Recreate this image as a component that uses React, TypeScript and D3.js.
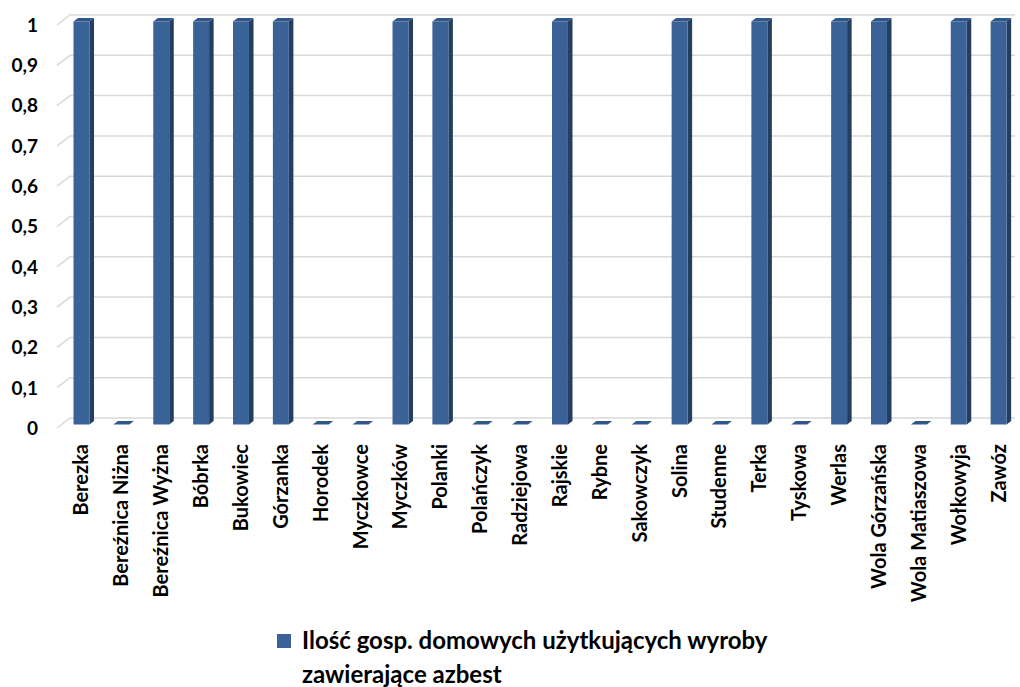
import React from 'react';
import * as d3 from 'd3';

// village names along the x axis
const categories = [
  'Berezka', 'Bereźnica Niżna', 'Bereźnica Wyżna', 'Bóbrka', 'Bukowiec', 'Górzanka',
  'Horodek', 'Myczkowce', 'Myczków', 'Polanki', 'Polańczyk', 'Radziejowa', 'Rajskie',
  'Rybne', 'Sakowczyk', 'Solina', 'Studenne', 'Terka', 'Tyskowa', 'Werlas',
  'Wola Górzańska', 'Wola Matiaszowa', 'Wołkowyja', 'Zawóz',
];
const values = [1, 0, 1, 1, 1, 1, 0, 0, 1, 1, 0, 0, 1, 0, 0, 1, 0, 1, 0, 1, 1, 0, 1, 1];
const yTicks = [0, 0.1, 0.2, 0.3, 0.4, 0.5, 0.6, 0.7, 0.8, 0.9, 1];
const seriesName = ['Ilość gosp. domowych użytkujących wyroby', 'zawierające azbest'];

const W = 1020;
const H = 687;

// 3d depth of the plot box
const DX = 13;
const DY = -10;
const FRONT = 0.35; // bar front face depth fraction
const BACK = 0.7;

const App: React.FC = () => {
  const y = d3.scaleLinear().domain([0, 1]).range([428, 25]);
  const x = d3.scaleBand<string>().domain(categories).range([57, 1014]).paddingInner(0.6).paddingOuter(0.3);

  const font = 'Lato, "Open Sans", sans-serif';
  const fx = FRONT * DX, fy = FRONT * DY;
  const bx = BACK * DX, by = BACK * DY;
  const bw = x.bandwidth();

  const pts = (p: [number, number][]) => p.map(d => d.join(',')).join(' ');

  return (
    <svg width={W} height={H} style={{ position: 'absolute', left: 0, top: 0, background: '#fff' }}>
      {/* gridlines on the back wall */}
      {yTicks.map(t => (
        <g key={t}>
          <polyline
            points={pts([[57, y(t)], [57 + DX, y(t) + DY], [1015, y(t) + DY]])}
            fill="none" stroke="#d9d9d9" strokeWidth={1.5}
          />
          <text x={38} y={y(t)} dy="0.36em" textAnchor="end" fontFamily={font}
            fontWeight={700} fontSize={19} fill="#000">
            {String(t).replace('.', ',')}
          </text>
        </g>
      ))}

      {/* bars */}
      {categories.map((c, i) => {
        const x0 = (x(c) as number) + fx;
        const x1 = x0 + bw;
        const yb = y(0) + fy;
        const yt = y(values[i]) + fy;
        const ddx = bx - fx, ddy = by - fy;
        return (
          <g key={c}>
            {values[i] > 0 && (
              <>
                <polygon points={pts([[x1, yt], [x1 + ddx, yt + ddy], [x1 + ddx, yb + ddy], [x1, yb]])} fill="#243e60" />
                <rect x={x0} y={yt} width={bw} height={yb - yt} fill="#3a6296" />
              </>
            )}
            <polygon points={pts([[x0, yt], [x0 + ddx, yt + ddy], [x1 + ddx, yt + ddy], [x1, yt]])} fill="#31578a" />
          </g>
        );
      })}

      {/* category labels */}
      {categories.map(c => {
        const cx = (x(c) as number) + fx + bw / 2;
        return (
          <text key={c} transform={`translate(${cx},444) rotate(-90)`} textAnchor="end" dy="0.35em"
            fontFamily={font} fontWeight={700} fontSize={20} fill="#000">
            {c}
          </text>
        );
      })}

      {/* legend */}
      <rect x={277} y={634} width={14} height={14} fill="#3a6296" />
      {seriesName.map((s, i) => (
        <text key={s} x={302} y={649 + i * 34} fontFamily={font} fontWeight={700} fontSize={24} fill="#000">
          {s}
        </text>
      ))}
    </svg>
  );
};

export default App;
